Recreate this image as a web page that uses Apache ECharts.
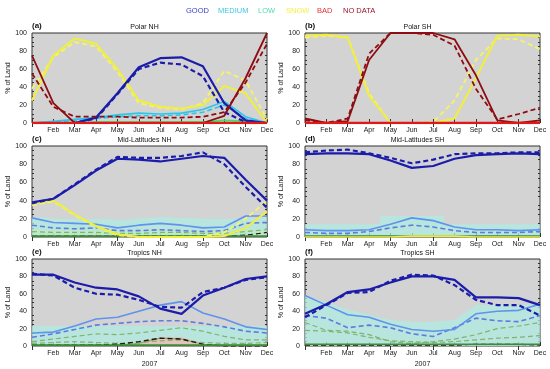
<!DOCTYPE html>
<html><head><meta charset="utf-8">
<script src="https://cdn.jsdelivr.net/npm/echarts@6/dist/echarts.min.js"></script>
<style>html,body{margin:0;padding:0;background:#fff}#c{width:550px;height:369px}</style>
</head><body><div id="c"></div>
<script>
const months = ['Jan','Feb','Mar','Apr','May','Jun','Jul','Aug','Sep','Oct','Nov','Dec'];
const yTicks = [0,20,40,60,80,100];
const legendNames = ['GOOD','MEDIUM','LOW','SNOW','BAD','NO DATA'];
const panelTitles = ['Polar NH','Polar SH','Mid-Latitudes NH','Mid-Latitudes SH','Tropics NH','Tropics SH'];
const panelLetters = ['(a)','(b)','(c)','(d)','(e)','(f)'];
const yearLabel = '2007';

// (a) Polar NH
const aGoodS  = [0,0,0,6,33,62,72,73,63,22,3,0];
const aGoodD  = [0,0,0,5,32,60,67,65,52,12,1,0];
const aSnowS  = [25,75,94,88,60,25,18,16,20,41,33,0];
const aSnowD  = [38,73,90,85,57,22,17,15,22,58,47,4];
const aMedS   = [0,2,4,6,9,11,10,11,15,24,7,0];
const aMedD   = [0,1,3,5,7,8,8,9,12,20,5,0];
const aNoDS   = [75,22,0,0,0,0,0,0,0,8,50,100];
const aNoDD   = [55,18,7,7,7,6,6,6,7,12,45,88];
const aLowS   = [0,0,0,1,1,1,1,1,1,3,2,0];
const aBadS   = [0,0,0,0,0,0,0,0,0,0,0,0];

// (b) Polar SH
const bSnowS  = [97,98,95,30,0,0,0,5,50,97,98,96];
const bSnowD  = [95,97,95,33,0,0,1,25,70,94,93,82];
const bNoDS   = [5,0,2,70,100,100,100,93,53,3,0,3];
const bNoDD   = [3,0,5,77,100,100,98,86,38,4,10,17];
const bBadS   = [0,0,0,0,0,0,0,0,0,0,0,0];

// (c) Mid-Latitudes NH
const cGoodS  = [38,42,57,73,86,85,83,86,89,87,63,40];
const cGoodD  = [37,42,58,74,88,87,87,89,93,80,55,32];
const cSnowS  = [37,40,25,12,3,0,0,0,0,1,10,28];
const cSnowD  = [35,39,24,11,2,0,0,0,0,5,20,40];
const cMedS   = [21,16,15,14,10,13,15,13,10,11,23,23];
const cMedD   = [13,10,9,10,7,7,8,7,6,7,15,16];
const cLowD   = [6,5,5,5,4,4,5,5,4,4,6,8];
const cLowS   = [1,1,1,1,1,1,1,1,1,1,1,1];
const cNoDD   = [1,1,1,1,1,1,1,1,1,1,2,5];
const cShadeM = [22,20,20,20,19,21,22,21,20,20,21,22];
const cShadeL = [8,8,8,8,7,7,8,8,7,7,8,8];

// (d) Mid-Latitudes SH
const dGoodS  = [91,92,92,91,84,76,78,86,90,91,92,91];
const dGoodD  = [93,95,96,92,87,81,85,91,92,92,93,93];
const dMedS   = [8,7,7,8,14,21,18,11,8,8,7,8];
const dMedD   = [5,4,4,6,10,13,11,7,5,5,5,6];
const dSnowS  = [0,0,0,0,0,1,1,1,0,0,0,0];
const dLowS   = [1,1,1,1,1,1,1,1,1,1,1,1];
const dShadeM = [14,14,14,14,23,23,23,14,14,14,14,14];

// (e) Tropics NH
const eGoodS  = [82,82,73,67,65,57,43,37,58,67,77,80];
const eGoodD  = [83,81,67,60,59,53,45,44,62,67,76,79];
const eMedS   = [15,16,23,31,33,40,47,51,38,31,22,19];
const eMedD   = [10,14,19,24,26,28,29,29,26,22,17,15];
const eLowD   = [5,8,11,14,13,15,18,21,17,11,7,7];
const eLowD2  = [3,4,5,4,3,4,6,7,4,3,3,4];
const eLowS   = [1,1,1,1,1,3,9,8,2,1,1,1];
const eNoDD   = [1,1,1,1,2,5,9,8,2,0,0,0];
const eBase   = [1,1,1,1,1,1,1,1,1,1,1,1];
const eShadeM = [23,23,23,23,23,23,23,23,23,23,23,23];
const eShadeB = [0,0,0,0,1,4,10,10,3,0,0,0];

// (f) Tropics SH
const fGoodS  = [37,48,62,65,73,80,80,76,56,56,55,47];
const fGoodD  = [33,47,61,62,75,82,81,70,53,47,47,35];
const fMedS   = [58,47,36,33,25,19,17,19,37,40,41,48];
const fMedD   = [35,32,21,24,21,14,11,21,32,29,28,35];
const fLowD   = [27,18,17,13,5,3,5,8,13,20,23,27];
const fLowD2  = [18,17,15,10,6,5,4,5,7,9,10,12];
const fLowS   = [2,2,2,2,2,2,2,2,2,2,2,2];
const fNoDD   = [1,1,1,1,1,1,1,1,2,2,2,1];
const fShadeM = [58,50,42,36,30,28,28,30,47,47,47,48];

const C = {
  good:'#1c1caa', medA:'#2ec6e8', med:'#5f93ec', medD:'#5c7ce0',
  snow:'#f0f03c', snowD:'#f2f270', nod:'#8e0c12', bad:'#e01818',
  lowA:'#2ee860', lowD:'#7fb46c', low:'#3c8c34', nodE:'#2a1210',
  shadeM:'rgba(175,235,225,0.75)', shadeL:'rgba(190,235,190,0.6)', shadeB:'rgba(235,190,185,0.9)'
};

function L(data, color, dashed, w){ return {data, color, dashed, w: w || 1.6}; }

const panels = [
  { lines:[L(aLowS,C.lowA,false,1.6),L(aMedD,C.medA,true),L(aMedS,C.medA,false),L(aSnowD,C.snowD,true,2),L(aSnowS,C.snow,false,2),
           L(aGoodD,C.good,true,2.2),L(aGoodS,C.good,false,2.2),L(aNoDD,C.nod,true,1.8),L(aNoDS,C.nod,false,1.8),L(aBadS,C.bad,false,2.4)], shades:[] },
  { lines:[L(bSnowD,C.snowD,true,2),L(bSnowS,C.snow,false,2),L(bNoDD,C.nod,true,1.8),L(bNoDS,C.nod,false,1.8),L(bBadS,C.bad,false,2.4)], shades:[] },
  { lines:[L(cLowD,C.lowD,true,1.2),L(cNoDD,C.nodE,true,1.2),L(cLowS,C.low,false,1.6),L(cMedD,C.medD,true,1.6),L(cMedS,C.med,false,1.6),
           L(cSnowD,C.snowD,true,2),L(cSnowS,C.snow,false,2),L(cGoodD,C.good,true,2.2),L(cGoodS,C.good,false,2.2)],
    shades:[{data:cShadeM,color:C.shadeM,step:'middle'},{data:cShadeL,color:C.shadeL,step:'middle'}] },
  { lines:[L(dLowS,C.low,false,1.6),L(dSnowS,C.snow,false,1.6),L(dMedD,C.medD,true,1.6),L(dMedS,C.med,false,1.6),
           L(dGoodD,C.good,true,2.2),L(dGoodS,C.good,false,2.2)],
    shades:[{data:dShadeM,color:C.shadeM,step:'middle'}] },
  { lines:[L(eLowD2,C.lowD,true,1.2),L(eLowD,C.lowD,true,1.2),L(eLowS,C.lowD,false,1.2),L(eNoDD,C.nodE,true,1.4),L(eMedD,C.medD,true,1.6),L(eMedS,C.med,false,1.6),
           L(eGoodD,C.good,true,2.2),L(eGoodS,C.good,false,2.2),L(eBase,C.low,false,1.6)],
    shades:[{data:eShadeM,color:C.shadeM,step:false},{data:eShadeB,color:C.shadeB,step:false}] },
  { lines:[L(fLowD2,C.lowD,true,1.2),L(fLowD,C.lowD,true,1.2),L(fNoDD,C.nodE,true,1.2),L(fLowS,C.low,false,1.6),L(fMedD,C.medD,true,1.6),L(fMedS,C.med,false,1.6),
           L(fGoodD,C.good,true,2.2),L(fGoodS,C.good,false,2.2)],
    shades:[{data:fShadeM,color:C.shadeM,step:false}] }
];

const colsX = [32, 305];
const plotW = 235;
const rowsY = [33, 146, 259];
const rowsH = [90, 91, 90];
const FONT = 'Liberation Sans';
const fs = 7;

const grid=[], xAxis=[], yAxis=[], series=[], graphic=[];
panels.forEach((p, i) => {
  const col = i % 2, row = Math.floor(i / 2);
  const left = colsX[col], top = rowsY[row], h = rowsH[row];
  grid.push({left, top, width: plotW, height: h, show: true, backgroundColor: '#d3d3d3', borderColor: '#333', borderWidth: 1});
  const xb = xAxis.length;
  xAxis.push({type:'category', gridIndex:i, data:months, boundaryGap:false,
    axisLine:{show:false}, axisTick:{inside:true, length:4, lineStyle:{color:'#333'}},
    axisLabel:{fontSize:fs, fontFamily:FONT, color:'#222', margin:4, formatter:(v,idx)=> idx===0 ? '' : v},
    name: row===2 ? yearLabel : '', nameLocation:'middle', nameGap:15, nameTextStyle:{fontSize:fs, fontFamily:FONT, color:'#222'}});
  xAxis.push({type:'category', gridIndex:i, data:months, boundaryGap:false, position:'top',
    axisLine:{show:false}, axisTick:{inside:true, length:4, lineStyle:{color:'#333'}}, axisLabel:{show:false}});
  const yb = yAxis.length;
  yAxis.push({type:'value', gridIndex:i, min:0, max:100, interval:20, splitLine:{show:false},
    axisLine:{show:false}, axisTick:{inside:true, length:4, lineStyle:{color:'#333'}},
    minorTick:{show:true, splitNumber:4, length:2, lineStyle:{color:'#333'}},
    axisLabel:{fontSize:fs, fontFamily:FONT, color:'#222', margin:5},
    name:'% of Land', nameLocation:'middle', nameGap: col===0 ? 19 : 17, nameRotate:90,
    nameTextStyle:{fontSize:fs, fontFamily:FONT, color:'#222'}});
  yAxis.push({type:'value', gridIndex:i, min:0, max:100, interval:20, position:'right', splitLine:{show:false},
    axisLine:{show:false}, axisTick:{inside:true, length:4, lineStyle:{color:'#333'}},
    minorTick:{show:true, splitNumber:4, length:2, lineStyle:{color:'#333'}}, axisLabel:{show:false}});
  p.shades.forEach(s => {
    series.push({type:'line', xAxisIndex:xb, yAxisIndex:yb, data:s.data, step:s.step, symbol:'none', silent:true,
      lineStyle:{width:0}, areaStyle:{color:s.color, opacity:1}, z:1});
  });
  p.lines.forEach((l, k) => {
    series.push({type:'line', xAxisIndex:xb, yAxisIndex:yb, data:l.data, symbol:'none', silent:true, z:2+k,
      lineStyle:{color:l.color, width:l.w, type: l.dashed ? [5,3] : 'solid'}});
  });
  graphic.push({type:'text', left: left, top: top - 11, style:{text: panelLetters[i], font:'bold 8px ' + FONT, fill:'#111'}});
  graphic.push({type:'text', x: left + plotW/2 - 5, y: top - 6, style:{text: panelTitles[i], font: fs + 'px ' + FONT, fill:'#111', textAlign:'center', textVerticalAlign:'middle'}});
});

const legendColors = ['#3a3acc','#3ec8e2','#4fe0a8','#f2f23c','#e03434','#a0122c'];
const legendX = [186, 218, 258, 286, 317, 343];
legendNames.forEach((n, i) => {
  graphic.push({type:'text', x: legendX[i], y: 11, style:{text:n, font:'7.5px ' + FONT, fill:legendColors[i], textVerticalAlign:'middle'}});
});

const chart = echarts.init(document.getElementById('c'), null, {renderer:'canvas'});
chart.setOption({animation:false, grid, xAxis, yAxis, series, graphic});
</script></body></html>
